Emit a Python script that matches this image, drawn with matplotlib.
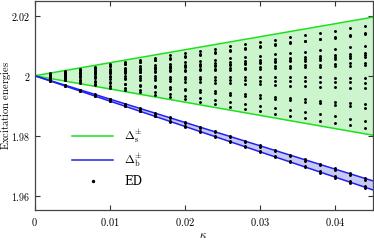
import matplotlib
matplotlib.use('Agg')
import matplotlib.pyplot as plt
import numpy as np

plt.rcParams['mathtext.fontset'] = 'cm'
plt.rcParams['font.family'] = 'serif'
plt.rcParams['font.serif'] = ['DejaVu Serif']

# band edges (kappa, energy)
kappa_edges = [0.0, 0.045]
s_upper = [2.0, 2.0195]
s_lower = [2.0, 1.9802]
b_upper = [2.0, 1.9650]
b_lower = [2.0, 1.9620]

# ED sample points
kappa_ed = [0.002, 0.004, 0.006, 0.008, 0.010, 0.012, 0.014, 0.016, 0.018, 0.020, 0.022,
            0.024, 0.026, 0.028, 0.030, 0.032, 0.034, 0.036, 0.038, 0.040, 0.042, 0.044]
# energy shifts per unit kappa read from the columns
ed_s_slopes = [0.376, 0.326, 0.318, 0.224, 0.174, 0.156, 0.141, 0.098, 0.080,
               -0.015, -0.053, -0.096, -0.217, -0.242, -0.339, -0.394]
ed_b_slopes = [-0.772, -0.786, -0.834, -0.848]

xticks = [0, 0.01, 0.02, 0.03, 0.04]
xticklabels = ['$0$', '$0.01$', '$0.02$', '$0.03$', '$0.04$']
yticks = [1.96, 1.98, 2.0, 2.02]
yticklabels = ['$1.96$', '$1.98$', '$2$', '$2.02$']

green_line = '#1ee01e'
green_fill = '#cdf5cd'
blue_line = '#2020f0'
blue_fill = '#c8c8f5'

fig = plt.figure(figsize=(3.74, 2.42), dpi=100)
ax = fig.add_axes([0.093, 0.131, 0.904, 0.865])

ax.fill_between(kappa_edges, s_lower, s_upper, color=green_fill, lw=0)
ax.fill_between(kappa_edges, b_lower, b_upper, color=blue_fill, lw=0)
ax.plot(kappa_edges, s_upper, color=green_line, lw=1.1, label=r'$\Delta_{\rm s}^{\pm}$')
ax.plot(kappa_edges, s_lower, color=green_line, lw=1.1)
ax.plot(kappa_edges, b_upper, color=blue_line, lw=1.1, label=r'$\Delta_{\rm b}^{\pm}$')
ax.plot(kappa_edges, b_lower, color=blue_line, lw=1.1)

kx, ky = [], []
for k in kappa_ed:
    for c in ed_s_slopes + ed_b_slopes:
        kx.append(k)
        ky.append(2.0 + c * k)
ax.plot(kx, ky, ls='none', marker='o', ms=1.1, color='black', label='ED')

ax.set_xlim(0, 0.045)
ax.set_ylim(1.9552, 2.0249)
ax.set_xticks(xticks, xticklabels)
ax.set_yticks(yticks, yticklabels)
ax.tick_params(direction='in', top=True, right=True, length=3.5, width=0.8,
               labelsize=7.5, colors='#333333', labelcolor='black', pad=4)
ax.tick_params(axis='y', labelsize=7.2, pad=3)
for s in ax.spines.values():
    s.set_color('#444444')
    s.set_linewidth(0.9)

ax.set_xlabel(r'$\kappa$', fontsize=8)
ax.xaxis.set_label_coords(0.497, -0.095)
ax.set_ylabel(r'$\mathrm{Excitation\ energies}$', fontsize=7.6)
ax.yaxis.set_label_coords(-0.065, 0.5)

ax.legend(loc='upper left', bbox_to_anchor=(0.08, 0.445), frameon=False,
          fontsize=8.5, handlelength=3.4, handletextpad=1.0, labelspacing=0.55,
          markerscale=1.3)

fig.savefig('out.png', dpi=100)
